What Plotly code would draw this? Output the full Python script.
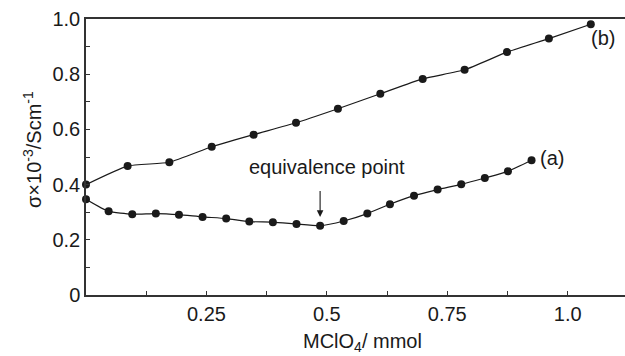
import plotly.graph_objects as go

# Series (b)
b_x = [0, 0.0864, 0.173, 0.261, 0.348, 0.436, 0.523, 0.611, 0.699, 0.786, 0.874, 0.961, 1.048]
b_y = [0.40, 0.467, 0.481, 0.537, 0.581, 0.624, 0.675, 0.729, 0.783, 0.816, 0.880, 0.929, 0.981]

# Series (a)
a_x = [0, 0.047, 0.096, 0.145, 0.193, 0.242, 0.291, 0.339, 0.388, 0.437, 0.486,
       0.535, 0.584, 0.631, 0.681, 0.730, 0.779, 0.828, 0.876, 0.925]
a_y = [0.347, 0.303, 0.293, 0.295, 0.291, 0.283, 0.277, 0.266, 0.264, 0.257, 0.251,
       0.268, 0.295, 0.329, 0.360, 0.382, 0.401, 0.424, 0.448, 0.488]

x_tickvals = [0.25, 0.5, 0.75, 1.0]
x_ticktext = ["0.25", "0.5", "0.75", "1.0"]
y_tickvals = [0, 0.2, 0.4, 0.6, 0.8, 1.0]
y_ticktext = ["0", "0.2", "0.4", "0.6", "0.8", "1.0"]

FONT = "Liberation Sans, Arial, sans-serif"
INK = "#1a1a1a"
FS = 20

fig = go.Figure()
for xs, ys in [(b_x, b_y), (a_x, a_y)]:
    fig.add_trace(go.Scatter(
        x=xs, y=ys, mode="lines+markers",
        line=dict(color=INK, width=1.2, shape="spline", smoothing=0.5),
        marker=dict(color=INK, size=8),
        cliponaxis=False, showlegend=False, hoverinfo="skip"))

tf = dict(size=FS, color=INK, family=FONT)
fig.add_annotation(x=1.073, y=0.931, text="(b)", showarrow=False, font=tf)
fig.add_annotation(x=0.967, y=0.496, text="(a)", showarrow=False, font=tf)
fig.add_annotation(x=0.4996, y=0.462, text="equivalence point", showarrow=False, font=tf)
fig.add_annotation(x=a_x[10], y=0.283, ax=a_x[10], ay=0.382, axref="x", ayref="y",
                   text="", showarrow=True, arrowhead=2, arrowsize=1.2,
                   arrowwidth=1.1, arrowcolor=INK)
# x-axis title
fig.add_annotation(x=362, y=342, xref="paper", yref="paper",
                   xanchor="center", yanchor="middle",
                   text="MClO<sub>4</sub>/ mmol", showarrow=False, font=tf)
# y-axis title
fig.add_annotation(x=32, y=150, xref="paper", yref="paper", textangle=-90,
                   xanchor="center", yanchor="middle",
                   text="σ×10<sup>-3</sup>/Scm<sup>-1</sup>", showarrow=False, font=tf)

# convert pixel positions of the two title annotations into paper coords
L, R, T, B, W, H = 86, 0, 19, 61, 625, 356
pw, ph = W - L - R, H - T - B
for ann in fig.layout.annotations[-2:]:
    px, py = ann.x, ann.y
    ann.x = (px - L) / pw
    ann.y = (H - B - py) / ph

axis_common = dict(showgrid=False, zeroline=False, automargin=False,
                   showline=True, linecolor="#333", linewidth=1.5,
                   ticks="inside", ticklen=4, tickcolor="#333", tickwidth=1,
                   tickfont=dict(size=FS, color=INK))

fig.update_layout(
    width=W, height=H,
    margin=dict(l=L, r=R, t=T, b=B, autoexpand=False),
    plot_bgcolor="white", paper_bgcolor="white",
    font=dict(family=FONT, size=FS, color=INK),
    hovermode=False,
    xaxis=dict(range=[0, 1.119], mirror=True,
               tickvals=x_tickvals, ticktext=x_ticktext,
               minor=dict(tick0=0, dtick=0.125, ticks="inside", ticklen=4,
                          tickcolor="#333", tickwidth=1, showgrid=False),
               **axis_common),
    yaxis=dict(range=[0, 1.0],
               tickvals=y_tickvals, ticktext=y_ticktext,
               minor=dict(tick0=0, dtick=0.1, ticks="inside", ticklen=4,
                          tickcolor="#333", tickwidth=1, showgrid=False),
               **axis_common),
)

fig.write_html("out.html", config={"displayModeBar": False},
               post_script="document.body.style.margin='0px';"
                           "document.body.style.overflow='hidden';")
